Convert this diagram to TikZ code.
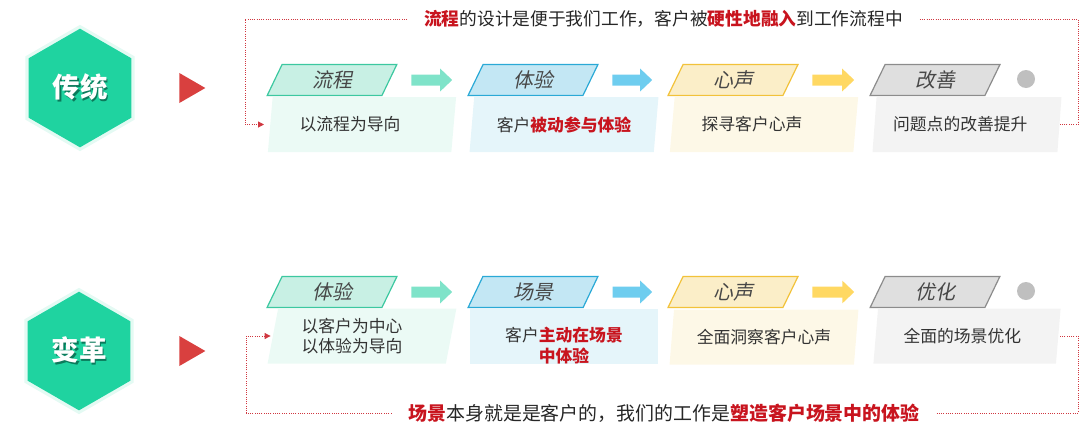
\documentclass[tikz,border=0pt]{standalone}
\usepackage{fontspec}
\setmainfont{Noto Sans CJK SC}
\newfontfamily\slantcjk{Noto Sans CJK SC}[FakeSlant=0.2]
\usepackage{xcolor}
\usepackage{tikz}
\usetikzlibrary{positioning,arrows.meta,shapes.geometric}
\definecolor{hexc}{HTML}{1FD3A0}
\definecolor{hexdark}{HTML}{0B7A5B}
\definecolor{pointred}{HTML}{D9403F}
\definecolor{keyred}{HTML}{C8141E}
\definecolor{tealc}{HTML}{3CC8A0}
\definecolor{bluec}{HTML}{2AA9D6}
\definecolor{yellowc}{HTML}{F2C23A}
\definecolor{greyc}{HTML}{8C8C8C}
\definecolor{arrteal}{HTML}{7FE3C9}
\definecolor{arrblue}{HTML}{6ECDEF}
\definecolor{arryellow}{HTML}{FFD862}
\newcommand\hexlabel[1]{\rlap{\kern1.2pt\raisebox{-1.2pt}{\textcolor{hexdark}{#1}}}#1}
\newcommand\hot[1]{{\bfseries\textcolor{keyred}{#1}}}
% pad on the right so the text sits a little left of the band centre
\newcommand\leftpad[1]{\hspace*{#1}}

\begin{document}
\begin{tikzpicture}[x=0.75pt,y=-0.75pt,font=\fontsize{12.6}{15}\selectfont,
  >={Triangle[length=4.5pt,width=4.5pt]},
  hexbox/.style={regular polygon,regular polygon sides=6,shape border rotate=30,
                 minimum size=89pt,inner sep=0pt,fill=hexc,text=white,
                 preaction={draw=hexc!35,line width=5pt,opacity=.35},
                 font=\fontsize{20.6}{24}\selectfont\bfseries},
  pointer/.style={regular polygon,regular polygon sides=3,shape border rotate=-90,
                 minimum size=26pt,inner sep=0pt,fill=pointred},
  head/.style={trapezium,trapezium left angle=72,trapezium right angle=108,trapezium stretches=true,
               draw=#1,line width=0.9pt,fill=#1!28,minimum width=97.5pt,minimum height=23.25pt,
               inner sep=0pt,text=black!72,font=\fontsize{15}{18}\selectfont\slantcjk},
  band/.style={trapezium,trapezium left angle=78,trapezium right angle=102,trapezium stretches=true,
               fill=#1,minimum width=141.75pt,minimum height=41.25pt,inner sep=0pt,
               align=center,text=black!80},
  flow/.style={draw=#1,line width=8.25pt,-{Triangle[length=9pt,width=16.5pt]},
               shorten <=16pt,shorten >=17pt},
  feedback/.style={densely dotted,line width=0.7pt,draw=keyred!85},
  enddot/.style={circle,fill=black!25,minimum size=13.5pt,inner sep=0pt},
  note/.style={inner xsep=12.5pt,inner ysep=2pt,font=\fontsize{13.3}{16}\selectfont,text=black!85},
  ]
  \useasboundingbox (0,0) rectangle (1080,436);

  % ---- tradition row ----
  \node[hexbox]  (hexA) at (80,88)  {\hexlabel{传统}};
  \node[pointer] (ptA)  at (188,88) {};

  \node[head=tealc]   (h1) at (332,80) {流程};
  \node[head=bluec]   (h2) at (533,80) {体验};
  \node[head=yellowc] (h3) at (733,80) {心声};
  \node[head=greyc]   (h4) at (935,80) {改善};
  \node[enddot] (d1) at (1026,79) {};

  \draw[flow=arrteal]   (h1) -- (h2);
  \draw[flow=arrblue]   (h2) -- (h3);
  \draw[flow=arryellow] (h3) -- (h4);

  \node[band=tealc!10]   (b1) at (362,124.5) {以流程为导向\leftpad{18pt}};
  \node[band=bluec!12]   (b2) at (564,124.5) {客户\hot{被动参与体验}};
  \node[band=yellowc!12] (b3) at (764,124.5) {探寻客户心声\leftpad{18pt}};
  \node[band=greyc!10]   (b4) at (967,124.5) {问题点的改善提升\leftpad{10pt}};

  % process-driven loop
  \node[note] (topnote) at (663.5,19)
    {\hot{流程}的设计是便于我们工作，客户被\hot{硬性地融入}到工作流程中};
  \coordinate (tl) at (245,60);
  \coordinate (tr) at (1078,60);
  \draw[feedback,->,shorten >=4.5pt] (topnote.west) -| (tl) |- (b1.west);
  \draw[feedback] (topnote.east) -| (tr) |- (b4.east);

  % ---- transformation row ----
  \node[hexbox]  (hexB) at (79,351)  {\hexlabel{变革}};
  \node[pointer] (ptB)  at (188,351) {};

  \node[head=tealc]   (k1) at (332,292) {体验};
  \node[head=bluec]   (k2) at (533,292) {场景};
  \node[head=yellowc] (k3) at (733,292) {心声};
  \node[head=greyc]   (k4) at (935,292) {优化};
  \node[enddot] (d2) at (1026,291) {};

  \draw[flow=arrteal]   (k1) -- (k2);
  \draw[flow=arrblue]   (k2) -- (k3);
  \draw[flow=arryellow] (k3) -- (k4);

  \node[band=tealc!10]   (c1) at (362,336) {以客户为中心\leftpad{15pt}\\以体验为导向\leftpad{15pt}};
  \node[band=bluec!12]   (c2) at (564,336)
    {\raisebox{-12pt}[0pt][0pt]{\begin{tabular}{@{}c@{}}客户\hot{主动在场景}\\\hot{中体验}\end{tabular}}};
  \node[band=yellowc!12] (c3) at (764,337) {全面洞察客户心声};
  \node[band=greyc!10]   (c4) at (967,336) {全面的场景优化\leftpad{7pt}};

  % scenario-driven loop
  \node[note,font=\fontsize{14.2}{17}\selectfont] (botnote) at (664,413)
    {\hot{场景}本身就是是客户的，我们的工作是\hot{塑造客户场景中的体验}};
  \coordinate (bl) at (246,380);
  \coordinate (br) at (1078,380);
  \draw[feedback,->,shorten >=1.5pt] (botnote.west) -| (bl) |- (c1.west);
  \draw[feedback] (botnote.east) -| (br) |- (c4.east);
\end{tikzpicture}
\end{document}
